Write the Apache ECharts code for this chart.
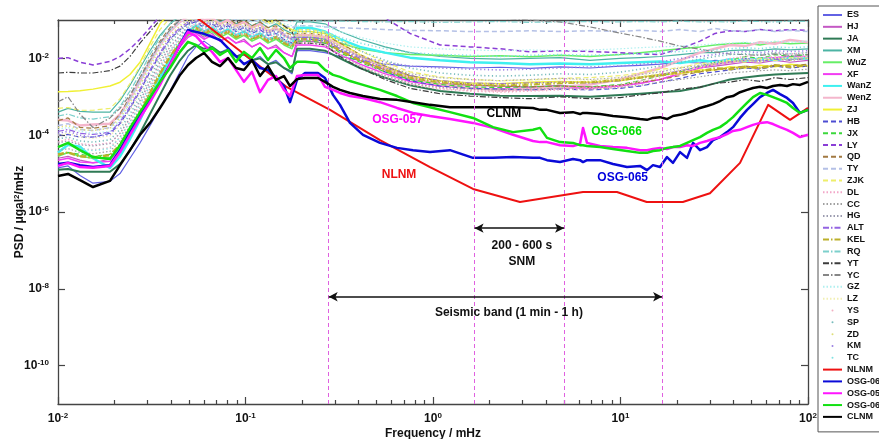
<!DOCTYPE html>
<html>
<head>
<meta charset="utf-8">
<script src="https://cdn.jsdelivr.net/npm/echarts@6/dist/echarts.min.js"></script>
<style>
html,body{margin:0;padding:0;background:#fff;}
#chart{width:879px;height:439px;}
</style>
</head>
<body>
<div id="chart"></div>
<script>
// Frequency grid (mHz) shared by the station spectra
const freqGrid = [0.01,0.01131,0.0131,0.01537,0.01894,0.02142,0.02421,0.02738,0.03096,0.03499,0.03957,0.04474,0.04934,0.05445,0.06008,0.06628,0.07311,0.08066,0.08898,0.09817,0.1083,0.1195,0.1318,0.1454,0.1604,0.177,0.1882,0.2208,0.2655,0.3192,0.408,0.5546,0.7541,1.09,1.575,2.277,3.291,4.756,6.875,9.94,12.71,16.25,20.77,26.55,31.92,38.37,46.13,55.46,66.68,80.17,100];

// Denser frequency grid (mHz) for the superconducting gravimeters and CLNM
const freqFine = [0.01,0.01131,0.0131,0.01537,0.01894,0.02142,0.02421,0.02738,0.03096,0.03499,0.03957,0.04474,0.04934,0.05445,0.06008,0.06628,0.07311,0.08066,0.08898,0.09817,0.1083,0.1195,0.1318,0.1454,0.1604,0.1727,0.1882,0.2077,0.2435,0.2655,0.2929,0.3192,0.3607,0.4233,0.5215,0.6427,0.7822,0.9638,1.232,1.634,2.089,2.672,3.414,3.722,4.055,4.756,5.58,6.081,6.31,6.627,7.777,9.12,10.83,12.71,13.85,14.9,16.25,17.7,19.05,20.77,22.63,24.37,26.55,28.93,31.14,33.95,36.98,39.81,43.39,47.29,50.9,55.46,60.42,65.07,70.91,77.27,83.18,90.64,100];

// Station PSD, log10(µgal²/mHz), on freqGrid
const psdES   = [-4.85,-4.80,-5.05,-5.25,-5.20,-5.00,-4.60,-4.20,-3.75,-3.30,-2.85,-2.35,-1.95,-1.70,-1.55,-1.70,-1.85,-1.75,-1.95,-1.85,-2.05,-1.95,-2.15,-2.05,-2.25,-2.40,-1.80,-1.80,-1.85,-1.95,-2.05,-2.15,-2.20,-2.22,-2.25,-2.23,-2.26,-2.22,-2.25,-2.20,-2.18,-2.15,-2.10,-2.12,-2.05,-2.08,-2.00,-2.05,-1.98,-2.02,-2.00];
const psdHJ   = [-4.60,-4.55,-4.65,-4.72,-4.62,-4.40,-4.05,-3.60,-3.10,-2.60,-2.10,-1.70,-1.40,-1.30,-1.45,-1.35,-1.55,-1.45,-1.60,-1.50,-1.70,-1.60,-1.75,-1.65,-1.85,-1.95,-1.55,-1.55,-1.60,-1.80,-2.05,-2.30,-2.55,-2.65,-2.70,-2.72,-2.75,-2.70,-2.75,-2.70,-2.65,-2.55,-2.40,-2.25,-2.20,-2.15,-2.10,-2.12,-2.05,-2.10,-2.05];
const psdJA   = [-4.90,-4.88,-4.95,-4.95,-4.95,-4.75,-4.40,-3.95,-3.45,-2.95,-2.45,-2.05,-1.80,-1.65,-1.75,-1.70,-1.85,-1.80,-1.95,-1.90,-2.05,-2.00,-2.15,-2.10,-2.25,-2.35,-1.75,-1.75,-1.80,-2.00,-2.25,-2.50,-2.70,-2.85,-2.92,-2.97,-2.98,-2.97,-3.00,-2.95,-2.92,-2.88,-2.85,-2.75,-2.65,-2.55,-2.50,-2.45,-2.42,-2.40,-2.38];
const psdXM   = [-3.40,-3.30,-3.38,-3.40,-3.40,-3.10,-2.70,-2.25,-1.80,-1.40,-1.10,-0.90,-0.80,-0.85,-0.95,-0.90,-1.05,-0.95,-1.10,-1.00,-1.15,-1.05,-1.20,-1.10,-1.25,-1.35,-1.05,-1.05,-1.10,-1.30,-1.50,-1.70,-1.85,-1.95,-2.00,-2.02,-2.00,-1.98,-2.05,-2.00,-1.98,-1.95,-1.90,-1.85,-1.85,-1.80,-1.78,-1.80,-1.75,-1.78,-1.75];
const psdWuZ  = [-4.55,-4.45,-4.55,-4.60,-4.58,-4.35,-3.95,-3.50,-3.00,-2.50,-2.05,-1.65,-1.40,-1.25,-1.40,-1.30,-1.45,-1.35,-1.50,-1.40,-1.55,-1.45,-1.60,-1.50,-1.65,-1.75,-1.45,-1.45,-1.50,-1.60,-1.75,-1.85,-1.90,-1.92,-1.95,-1.93,-1.96,-1.92,-1.95,-1.90,-1.85,-1.80,-1.75,-1.70,-1.65,-1.62,-1.60,-1.65,-1.58,-1.62,-1.60];
const psdXF   = [-4.65,-4.60,-4.70,-4.72,-4.68,-4.45,-4.05,-3.60,-3.10,-2.60,-2.10,-1.70,-1.45,-1.35,-1.50,-1.40,-1.55,-1.45,-1.60,-1.55,-1.70,-1.60,-1.75,-1.70,-1.85,-1.95,-1.65,-1.65,-1.70,-1.90,-2.15,-2.40,-2.60,-2.72,-2.78,-2.80,-2.78,-2.76,-2.78,-2.72,-2.65,-2.55,-2.40,-2.25,-2.15,-2.10,-2.05,-2.00,-1.98,-1.95,-1.95];
const psdWanZ = [-4.45,-4.25,-4.30,-4.60,-4.85,-4.55,-4.10,-3.60,-3.05,-2.50,-2.00,-1.60,-1.30,-1.15,-1.30,-1.20,-1.35,-1.25,-1.40,-1.30,-1.45,-1.35,-1.50,-1.45,-1.55,-1.65,-1.20,-1.20,-1.30,-1.50,-1.70,-1.85,-1.98,-2.05,-2.10,-2.12,-2.15,-2.13,-2.15,-2.12,-2.10,-2.08,-2.12,-2.05,-2.10,-2.02,-2.06,-2.00,-2.04,-1.98,-2.00];
const psdWenZ = [-3.60,-3.62,-3.75,-3.72,-3.70,-3.45,-3.05,-2.60,-2.10,-1.65,-1.30,-1.05,-0.90,-0.85,-1.00,-0.95,-1.10,-1.00,-1.15,-1.05,-1.20,-1.10,-1.30,-1.20,-1.40,-1.50,-1.40,-1.40,-1.45,-1.65,-1.95,-2.25,-2.50,-2.68,-2.78,-2.82,-2.80,-2.75,-2.68,-2.55,-2.40,-2.25,-2.05,-1.85,-1.75,-1.65,-1.68,-1.58,-1.62,-1.52,-1.58];
const psdZJ   = [-2.87,-2.86,-2.84,-2.80,-2.72,-2.62,-2.42,-2.10,-1.60,-1.10,-0.80,-0.60,-0.50,-0.55,-0.65,-0.60,-0.75,-0.70,-0.85,-0.80,-0.95,-0.90,-1.05,-1.00,-1.15,-1.25,-1.30,-1.30,-1.35,-1.60,-1.90,-2.20,-2.45,-2.58,-2.64,-2.66,-2.62,-2.60,-2.62,-2.58,-2.50,-2.42,-2.40,-2.30,-2.30,-2.22,-2.25,-2.18,-2.22,-2.15,-2.20];
const psdHB   = [-4.00,-3.98,-4.05,-4.05,-3.95,-3.70,-3.30,-2.85,-2.35,-1.90,-1.50,-1.25,-1.10,-1.05,-1.20,-1.10,-1.25,-1.15,-1.30,-1.20,-1.35,-1.25,-1.40,-1.35,-1.50,-1.60,-1.50,-1.50,-1.55,-1.80,-2.05,-2.35,-2.58,-2.72,-2.78,-2.80,-2.82,-2.80,-2.82,-2.78,-2.72,-2.62,-2.52,-2.40,-2.35,-2.30,-2.25,-2.28,-2.20,-2.25,-2.20];
const psdJX   = [-4.50,-4.45,-4.50,-4.55,-4.50,-4.25,-3.85,-3.40,-2.90,-2.40,-1.95,-1.60,-1.35,-1.20,-1.35,-1.25,-1.40,-1.30,-1.45,-1.35,-1.50,-1.40,-1.55,-1.45,-1.60,-1.70,-1.55,-1.55,-1.60,-1.85,-2.10,-2.35,-2.55,-2.68,-2.74,-2.76,-2.74,-2.72,-2.74,-2.68,-2.58,-2.45,-2.35,-2.20,-2.10,-2.05,-1.95,-2.00,-1.90,-1.95,-1.90];
const psdLY   = [-2.00,-1.98,-2.10,-2.17,-2.08,-1.95,-1.75,-1.50,-1.20,-0.90,-0.70,-0.60,-0.50,-0.50,-0.55,-0.60,-0.50,-0.60,-0.55,-0.60,-0.65,-0.60,-0.70,-0.65,-0.70,-0.80,-0.50,-0.50,-0.55,-0.65,-0.75,-0.95,-1.35,-1.65,-1.70,-1.75,-1.83,-1.80,-1.82,-1.85,-1.88,-1.90,-1.75,-1.55,-1.35,-1.28,-1.30,-1.25,-1.28,-1.25,-1.27];
const psdQD   = [-3.62,-3.55,-3.80,-3.82,-3.75,-3.45,-3.00,-2.50,-2.00,-1.55,-1.20,-1.00,-0.85,-0.85,-0.95,-0.90,-1.00,-0.95,-1.10,-1.00,-1.15,-1.05,-1.20,-1.15,-1.30,-1.40,-1.35,-1.35,-1.40,-1.60,-1.90,-2.20,-2.45,-2.60,-2.68,-2.72,-2.74,-2.72,-2.75,-2.70,-2.62,-2.55,-2.45,-2.35,-2.30,-2.25,-2.20,-2.25,-2.18,-2.20,-2.15];
const psdTY   = [-3.75,-3.70,-3.85,-3.88,-3.80,-3.50,-3.05,-2.55,-2.05,-1.60,-1.25,-1.00,-0.85,-0.80,-0.90,-0.85,-0.95,-0.90,-1.00,-0.95,-1.05,-1.00,-1.10,-1.05,-1.15,-1.20,-1.15,-1.15,-1.18,-1.20,-1.22,-1.25,-1.27,-1.28,-1.30,-1.30,-1.28,-1.30,-1.28,-1.30,-1.27,-1.30,-1.25,-1.30,-1.22,-1.28,-1.30,-1.25,-1.30,-1.27,-1.30];
const psdZJK  = [-3.30,-3.28,-3.35,-3.35,-3.30,-3.05,-2.65,-2.20,-1.70,-1.25,-0.95,-0.75,-0.65,-0.65,-0.75,-0.70,-0.80,-0.75,-0.90,-0.85,-1.00,-0.95,-1.10,-1.05,-1.20,-1.30,-1.25,-1.25,-1.30,-1.50,-1.80,-2.10,-2.35,-2.48,-2.55,-2.58,-2.56,-2.52,-2.50,-2.45,-2.38,-2.28,-2.25,-2.12,-2.15,-2.05,-2.10,-2.00,-2.05,-1.98,-2.00];
const psdDL   = [-4.18,-4.10,-4.22,-4.25,-4.20,-3.95,-3.55,-3.10,-2.60,-2.10,-1.70,-1.40,-1.20,-1.10,-1.25,-1.15,-1.30,-1.20,-1.35,-1.25,-1.40,-1.30,-1.45,-1.35,-1.50,-1.60,-1.45,-1.45,-1.50,-1.75,-2.05,-2.40,-2.65,-2.78,-2.84,-2.86,-2.84,-2.80,-2.76,-2.70,-2.58,-2.45,-2.32,-2.20,-2.10,-2.00,-1.95,-1.90,-1.85,-1.88,-1.85];
const psdCC   = [-4.40,-4.35,-4.45,-4.48,-4.42,-4.15,-3.75,-3.30,-2.80,-2.30,-1.85,-1.50,-1.25,-1.15,-1.30,-1.20,-1.35,-1.25,-1.40,-1.30,-1.45,-1.35,-1.50,-1.40,-1.55,-1.65,-1.60,-1.60,-1.65,-1.90,-2.20,-2.45,-2.65,-2.75,-2.80,-2.82,-2.80,-2.78,-2.80,-2.76,-2.70,-2.62,-2.55,-2.48,-2.42,-2.38,-2.35,-2.32,-2.30,-2.32,-2.28];
const psdHG   = [-4.20,-4.15,-4.25,-4.28,-4.22,-3.95,-3.55,-3.10,-2.60,-2.10,-1.70,-1.40,-1.15,-1.00,-1.15,-1.05,-1.20,-1.10,-1.25,-1.15,-1.30,-1.20,-1.35,-1.25,-1.40,-1.50,-1.45,-1.45,-1.50,-1.70,-1.95,-2.20,-2.40,-2.50,-2.55,-2.58,-2.55,-2.52,-2.55,-2.50,-2.42,-2.35,-2.25,-2.18,-2.12,-2.08,-2.04,-2.06,-2.00,-2.02,-2.00];
const psdALT  = [-3.90,-3.85,-3.95,-3.98,-3.92,-3.65,-3.25,-2.80,-2.30,-1.85,-1.45,-1.20,-1.05,-1.00,-1.10,-1.05,-1.15,-1.10,-1.20,-1.15,-1.25,-1.20,-1.30,-1.25,-1.35,-1.45,-1.45,-1.45,-1.50,-1.75,-2.00,-2.25,-2.45,-2.58,-2.64,-2.66,-2.64,-2.62,-2.64,-2.58,-2.50,-2.42,-2.32,-2.22,-2.15,-2.10,-2.05,-2.08,-2.02,-2.05,-2.00];
const psdKEL  = [-4.50,-4.45,-4.55,-4.58,-4.52,-4.25,-3.85,-3.40,-2.90,-2.40,-1.95,-1.60,-1.35,-1.20,-1.35,-1.25,-1.40,-1.30,-1.45,-1.35,-1.50,-1.40,-1.55,-1.45,-1.60,-1.70,-1.50,-1.50,-1.55,-1.80,-2.05,-2.30,-2.50,-2.62,-2.68,-2.70,-2.68,-2.64,-2.62,-2.56,-2.50,-2.44,-2.36,-2.34,-2.26,-2.28,-2.22,-2.25,-2.18,-2.22,-2.18];
const psdRQ   = [-3.50,-3.45,-3.55,-3.58,-3.52,-3.25,-2.85,-2.40,-1.90,-1.45,-1.10,-0.85,-0.70,-0.70,-0.80,-0.75,-0.85,-0.80,-0.90,-0.85,-0.95,-0.90,-1.00,-0.95,-1.00,-1.05,-1.02,-1.02,-1.03,-1.03,-1.04,-1.05,-1.04,-1.06,-1.05,-1.04,-1.06,-1.05,-1.04,-1.05,-1.04,-1.05,-1.03,-1.05,-1.04,-1.05,-1.03,-1.04,-1.05,-1.03,-1.04];
const psdYT   = [-2.38,-2.36,-2.38,-2.38,-2.32,-2.20,-1.95,-1.60,-1.30,-1.00,-0.80,-0.60,-0.50,-0.55,-0.65,-0.60,-0.75,-0.70,-0.85,-0.80,-0.95,-0.90,-1.05,-1.00,-1.15,-1.30,-1.60,-1.60,-1.65,-1.95,-2.25,-2.55,-2.78,-2.92,-2.98,-3.02,-3.05,-3.00,-3.05,-3.02,-2.95,-2.90,-2.80,-2.75,-2.65,-2.62,-2.55,-2.60,-2.50,-2.55,-2.50];
const psdYC   = [-3.13,-3.00,-3.45,-3.80,-3.55,-3.30,-2.95,-2.50,-2.05,-1.60,-1.25,-1.00,-0.85,-0.60,-0.70,-0.65,-0.75,-0.70,-0.80,-0.75,-0.85,-0.80,-0.90,-0.85,-0.90,-0.95,-0.70,-0.70,-0.72,-0.70,-0.72,-0.75,-0.80,-0.85,-0.90,-0.95,-1.00,-1.05,-1.18,-1.34,-1.44,-1.55,-1.68,-1.76,-1.83,-1.89,-1.90,-1.92,-1.88,-1.92,-1.90];
const psdGZ   = [-3.85,-3.80,-3.90,-3.95,-3.90,-3.60,-3.15,-2.65,-2.15,-1.70,-1.30,-1.05,-0.90,-0.85,-0.90,-0.88,-0.95,-0.90,-1.00,-0.95,-1.05,-1.00,-1.10,-1.05,-1.10,-1.15,-1.15,-1.15,-1.17,-1.30,-1.45,-1.60,-1.70,-1.75,-1.78,-1.80,-1.78,-1.80,-1.78,-1.75,-1.72,-1.70,-1.68,-1.65,-1.62,-1.60,-1.58,-1.60,-1.55,-1.58,-1.55];
const psdLZ   = [-4.00,-3.95,-4.05,-4.08,-4.02,-3.75,-3.35,-2.90,-2.40,-1.95,-1.55,-1.25,-1.05,-1.00,-1.10,-1.05,-1.15,-1.10,-1.20,-1.15,-1.25,-1.20,-1.30,-1.25,-1.35,-1.45,-1.35,-1.35,-1.40,-1.65,-1.90,-2.15,-2.38,-2.50,-2.56,-2.58,-2.56,-2.54,-2.56,-2.50,-2.42,-2.32,-2.22,-2.15,-2.10,-2.05,-2.00,-2.05,-1.98,-2.00,-1.95];
const psdYS   = [-4.30,-4.25,-4.35,-4.38,-4.32,-4.05,-3.65,-3.20,-2.70,-2.20,-1.80,-1.50,-1.30,-1.20,-1.30,-1.25,-1.35,-1.30,-1.40,-1.35,-1.45,-1.40,-1.50,-1.45,-1.55,-1.65,-1.60,-1.60,-1.65,-1.90,-2.20,-2.48,-2.68,-2.80,-2.85,-2.88,-2.85,-2.82,-2.80,-2.74,-2.62,-2.50,-2.38,-2.25,-2.15,-2.10,-2.05,-2.00,-1.95,-1.98,-1.95];
const psdSP   = [-4.10,-4.05,-4.15,-4.18,-4.12,-3.85,-3.45,-3.00,-2.50,-2.00,-1.60,-1.30,-1.10,-1.05,-1.15,-1.10,-1.20,-1.15,-1.25,-1.20,-1.30,-1.25,-1.35,-1.30,-1.40,-1.50,-1.30,-1.30,-1.35,-1.55,-1.80,-2.05,-2.25,-2.38,-2.44,-2.46,-2.44,-2.40,-2.42,-2.36,-2.28,-2.20,-2.10,-2.02,-1.95,-1.90,-1.88,-1.90,-1.85,-1.88,-1.85];
const psdZD   = [-3.80,-3.75,-3.85,-3.88,-3.82,-3.55,-3.15,-2.70,-2.20,-1.75,-1.40,-1.15,-1.00,-0.95,-1.05,-1.00,-1.10,-1.05,-1.15,-1.10,-1.20,-1.15,-1.25,-1.20,-1.30,-1.40,-1.40,-1.40,-1.45,-1.70,-1.95,-2.25,-2.48,-2.60,-2.66,-2.68,-2.66,-2.62,-2.60,-2.55,-2.48,-2.40,-2.30,-2.22,-2.15,-2.10,-2.05,-2.10,-2.00,-2.05,-2.00];
const psdKM   = [-3.95,-3.90,-4.00,-4.05,-3.98,-3.70,-3.30,-2.85,-2.35,-1.90,-1.50,-1.25,-1.10,-1.05,-1.15,-1.10,-1.20,-1.15,-1.25,-1.20,-1.30,-1.25,-1.35,-1.30,-1.40,-1.50,-1.50,-1.50,-1.55,-1.75,-1.95,-2.10,-2.20,-2.25,-2.28,-2.30,-2.28,-2.25,-2.22,-2.20,-2.15,-2.10,-2.00,-1.95,-1.90,-1.85,-1.82,-1.85,-1.80,-1.82,-1.80];
const psdTC   = [-4.30,-4.25,-4.35,-4.40,-4.35,-4.05,-3.65,-3.20,-2.70,-2.20,-1.80,-1.45,-1.20,-1.10,-1.20,-1.15,-1.25,-1.20,-1.30,-1.25,-1.35,-1.30,-1.40,-1.35,-1.45,-1.55,-1.25,-1.25,-1.30,-1.45,-1.60,-1.75,-1.85,-1.90,-1.92,-1.95,-1.92,-1.90,-1.92,-1.90,-1.88,-1.85,-1.82,-1.80,-1.78,-1.75,-1.72,-1.75,-1.70,-1.72,-1.70];

// New Low Noise Model, log10(µgal²/mHz)
const nlnmFreq = [0.0506,0.0572,0.1665,0.2825,0.5216,0.964,1.635,2.91,6.31,9.57,13.8,21.5,30.0,43.4,61.3,80.2,100];
const nlnmExp  = [-0.82,-1.00,-2.75,-3.34,-4.13,-4.83,-5.40,-5.74,-5.48,-5.48,-5.74,-5.74,-5.51,-4.72,-3.21,-3.60,-3.29];

// Superconducting gravimeters and CLNM, log10(µgal²/mHz), on freqFine
const osg065Exp = [-4.75,-4.72,-4.78,-4.83,-4.78,-4.39,-3.92,-3.47,-3.08,-2.64,-2.17,-1.65,-1.26,-1.31,-1.36,-1.44,-1.52,-1.73,-1.94,-2.15,-2.04,-2.25,-2.30,-2.51,-2.72,-3.14,-2.56,-2.38,-2.38,-2.51,-2.95,-3.21,-3.68,-3.99,-4.20,-4.33,-4.39,-4.44,-4.39,-4.59,-4.59,-4.57,-4.59,-4.59,-4.65,-4.70,-4.62,-4.65,-4.70,-4.65,-4.65,-4.75,-4.83,-4.80,-4.91,-4.78,-4.83,-4.57,-4.72,-4.44,-4.59,-4.20,-4.39,-4.31,-4.13,-4.05,-3.92,-3.79,-3.55,-3.34,-3.19,-3.01,-2.90,-2.82,-2.93,-3.03,-3.16,-3.42,-3.34];
const osg057Exp = [-4.80,-4.72,-4.83,-4.85,-4.80,-4.44,-3.99,-3.55,-3.14,-2.69,-2.17,-1.65,-1.31,-1.42,-1.65,-1.83,-2.09,-1.99,-2.30,-2.61,-2.35,-2.88,-2.56,-2.46,-2.82,-2.98,-2.46,-2.43,-2.43,-2.74,-2.82,-2.90,-2.98,-3.03,-3.14,-3.29,-3.42,-3.50,-3.58,-3.68,-3.81,-3.99,-4.15,-4.18,-4.18,-4.26,-4.28,-4.23,-3.81,-4.20,-4.28,-4.31,-4.33,-4.39,-4.39,-4.36,-4.33,-4.36,-4.31,-4.31,-4.26,-4.28,-4.20,-4.15,-4.10,-4.05,-3.97,-3.89,-3.86,-3.79,-3.73,-3.68,-3.66,-3.71,-3.79,-3.86,-3.94,-4.05,-3.99];
const osg066Exp = [-4.31,-4.20,-4.39,-4.57,-4.62,-4.26,-3.81,-3.40,-3.01,-2.61,-2.25,-1.83,-1.57,-1.65,-1.83,-1.73,-1.91,-1.78,-2.09,-1.83,-1.99,-1.73,-2.04,-1.78,-1.99,-2.25,-2.09,-2.09,-2.12,-2.30,-2.43,-2.48,-2.59,-2.69,-2.82,-2.98,-3.16,-3.27,-3.40,-3.55,-3.79,-3.92,-3.86,-3.81,-4.07,-4.18,-4.20,-4.26,-4.26,-4.28,-4.31,-4.36,-4.41,-4.46,-4.46,-4.41,-4.39,-4.33,-4.31,-4.28,-4.20,-4.13,-4.05,-3.94,-3.86,-3.79,-3.66,-3.53,-3.34,-3.16,-3.01,-2.90,-2.95,-3.01,-3.08,-3.16,-3.29,-3.42,-3.34];
const clnmExp   = [-5.06,-5.01,-5.17,-5.35,-5.19,-4.78,-4.39,-3.99,-3.68,-3.29,-2.88,-2.43,-2.17,-1.99,-1.86,-2.09,-2.20,-1.99,-2.25,-2.30,-2.04,-2.46,-2.20,-2.56,-2.46,-2.72,-2.54,-2.51,-2.51,-2.61,-2.74,-2.82,-2.90,-2.98,-3.06,-3.08,-3.14,-3.21,-3.27,-3.27,-3.27,-3.27,-3.29,-3.34,-3.34,-3.42,-3.40,-3.45,-3.42,-3.42,-3.45,-3.50,-3.53,-3.58,-3.60,-3.55,-3.53,-3.58,-3.50,-3.47,-3.42,-3.37,-3.29,-3.24,-3.19,-3.11,-3.01,-2.98,-2.88,-2.82,-2.77,-2.74,-2.77,-2.72,-2.69,-2.72,-2.67,-2.69,-2.61];

// Axis ticks
const xDecades = [0.01, 0.1, 1, 10, 100];
const xMinorTicks = [0.02,0.03,0.04,0.05,0.06,0.07,0.08,0.09,0.2,0.3,0.4,0.5,0.6,0.7,0.8,0.9,2,3,4,5,6,7,8,9,20,30,40,50,60,70,80,90];
const yDecades = [1e-10, 1e-8, 1e-6, 1e-4, 1e-2];
const yRange = [1e-11, 1e-1];

// Period bounds (s) of the seismic band and of the SNM band
const seismicPeriods = [3600, 60];
const snmPeriods = [600, 200];
const seismicArrowPsd = 6.2e-9;
const snmArrowPsd = 3.8e-7;

// Text annotations: [frequency mHz, PSD, text, colour]
const curveNotes = [
  [0.647, 2.5e-4, 'OSG-057', '#ff00ff'],
  [2.39, 3.7e-4, 'CLNM', '#000000'],
  [0.659, 9.1e-6, 'NLNM', '#ee1111'],
  [9.53, 1.23e-4, 'OSG-066', '#00dd00'],
  [10.27, 7.6e-6, 'OSG-065', '#0000dd'],
  [2.98, 1.35e-7, '200 - 600 s', '#111111'],
  [2.98, 5.2e-8, 'SNM', '#111111'],
  [2.54, 2.4e-9, 'Seismic band (1 min - 1 h)', '#111111']
];

const stationNames = ['ES','HJ','JA','XM','WuZ','XF','WanZ','WenZ','ZJ','HB','JX','LY','QD','TY','ZJK','DL','CC','HG','ALT','KEL','RQ','YT','YC','GZ','LZ','YS','SP','ZD','KM','TC'];
const stationPsd = {ES:psdES,HJ:psdHJ,JA:psdJA,XM:psdXM,WuZ:psdWuZ,XF:psdXF,WanZ:psdWanZ,WenZ:psdWenZ,ZJ:psdZJ,HB:psdHB,JX:psdJX,LY:psdLY,QD:psdQD,TY:psdTY,ZJK:psdZJK,DL:psdDL,CC:psdCC,HG:psdHG,ALT:psdALT,KEL:psdKEL,RQ:psdRQ,YT:psdYT,YC:psdYC,GZ:psdGZ,LZ:psdLZ,YS:psdYS,SP:psdSP,ZD:psdZD,KM:psdKM,TC:psdTC};

// Line styles
const DASH = [5, 3], DOT = [1.5, 2], DASHDOT = [6, 2, 1.5, 2], DOTS = [1.2, 2.6];
const stationStyle = {
  ES:{c:'#6262e4',t:'solid',w:1.2}, HJ:{c:'#c458c4',t:'solid',w:1.2}, JA:{c:'#2f7a55',t:'solid',w:2},
  XM:{c:'#4cb4a4',t:'solid',w:1.2}, WuZ:{c:'#66ee66',t:'solid',w:1.5}, XF:{c:'#f23cf2',t:'solid',w:1.5},
  WanZ:{c:'#3ef0f0',t:'solid',w:2.5}, WenZ:{c:'#f4b6cc',t:'solid',w:2.5}, ZJ:{c:'#f0f034',t:'solid',w:1.5},
  HB:{c:'#4d4dd2',t:DASH,w:1.2}, JX:{c:'#3cd83c',t:DASH,w:1.2}, LY:{c:'#8a3ed6',t:DASH,w:1.5},
  QD:{c:'#a27a42',t:DASH,w:1.2}, TY:{c:'#b4c0e6',t:DASH,w:1.5}, ZJK:{c:'#eeee6a',t:DASH,w:1.2},
  DL:{c:'#f2a6c8',t:DOT,w:1.2}, CC:{c:'#a0a0a0',t:DOT,w:1.2}, HG:{c:'#9c9cb0',t:DOT,w:1.2},
  ALT:{c:'#9464e2',t:DASHDOT,w:1.2}, KEL:{c:'#bcb02a',t:DASHDOT,w:2.5}, RQ:{c:'#7cd0cc',t:DASHDOT,w:1.2},
  YT:{c:'#3c3c3c',t:DASHDOT,w:1.2}, YC:{c:'#868686',t:DASHDOT,w:1.2}, GZ:{c:'#b0f0f0',t:DOT,w:1.2},
  LZ:{c:'#f2f0b4',t:DOT,w:1.2}, YS:{c:'#f2b0c2',t:DOTS,w:1.6}, SP:{c:'#78bcbc',t:DOTS,w:1.6},
  ZD:{c:'#dede78',t:DOTS,w:1.6}, KM:{c:'#9a7ee2',t:DOTS,w:1.6}, TC:{c:'#80e2e2',t:DOTS,w:1.6}
};
const dotLegend = ['YS','SP','ZD','KM','TC'];
const refCurves = [
  {name:'NLNM', f:nlnmFreq, p:nlnmExp, c:'#ee1111', w:2},
  {name:'OSG-065', f:freqFine, p:osg065Exp, c:'#0a0ad8', w:2.5},
  {name:'OSG-057', f:freqFine, p:osg057Exp, c:'#ff14ff', w:2.5},
  {name:'OSG-066', f:freqFine, p:osg066Exp, c:'#12e012', w:2.5},
  {name:'CLNM', f:freqFine, p:clnmExp, c:'#000000', w:2.5}
];

const FONT = '"Liberation Sans", Arial, Helvetica, sans-serif';
const BAND_COLOR = '#e060e0';

function pairs(freqs, exps) {
  return freqs.map((f, i) => [f, Math.pow(10, exps[i])]);
}
function lineSeries(name, data, color, type, width) {
  return {
    name, type: 'line', data, symbol: 'none', showSymbol: false, clip: true, smooth: false,
    xAxisIndex: 0, yAxisIndex: 0,
    lineStyle: {color, type, width, cap: 'butt', join: 'round'},
    itemStyle: {color}, emphasis: {disabled: true}, silent: true
  };
}

const series = [];
stationNames.forEach(n => {
  const s = stationStyle[n];
  series.push(lineSeries(n, pairs(freqGrid, stationPsd[n]), s.c, s.t, s.w));
});
refCurves.forEach(r => series.push(lineSeries(r.name, pairs(r.f, r.p), r.c, 'solid', r.w)));

// Band limits drawn as dashed verticals spanning the full PSD range
const bandFreqs = seismicPeriods.concat(snmPeriods).map(T => 1000 / T);
series.push({
  name: 'bands', type: 'line', data: [], xAxisIndex: 0, yAxisIndex: 0, silent: true, z: 5,
  itemStyle: {color: BAND_COLOR}, lineStyle: {color: BAND_COLOR},
  markLine: {
    silent: true, symbol: ['none', 'none'], animation: false, precision: 6,
    label: {show: false}, emphasis: {disabled: true},
    lineStyle: {color: BAND_COLOR, type: [4, 3], width: 1, opacity: 1},
    data: bandFreqs.map(f => [
      {coord: [f, yRange[0]], lineStyle: {color: BAND_COLOR, type: [4, 3], width: 1}},
      {coord: [f, yRange[1]]}
    ])
  }
});
series.push({
  name: 'arrows', type: 'line', data: [], xAxisIndex: 0, yAxisIndex: 0, silent: true, z: 5,
  itemStyle: {color: '#111'},
  markLine: {
    silent: true, symbol: ['arrow', 'arrow'], symbolSize: [7, 9], animation: false,
    label: {show: false}, emphasis: {disabled: true},
    lineStyle: {color: '#111', type: 'solid', width: 1.5},
    data: [
      [{coord: [1000 / snmPeriods[0], snmArrowPsd]}, {coord: [1000 / snmPeriods[1], snmArrowPsd]}],
      [{coord: [1000 / seismicPeriods[0], seismicArrowPsd]}, {coord: [1000 / seismicPeriods[1], seismicArrowPsd]}]
    ]
  }
});
series.push({
  name: 'notes', type: 'line', data: [], xAxisIndex: 0, yAxisIndex: 0, silent: true, z: 6,
  markPoint: {
    silent: true, symbol: 'circle', symbolSize: 0.01, animation: false,
    itemStyle: {color: 'rgba(0,0,0,0)'},
    data: curveNotes.map(n => ({
      coord: [n[0], n[1]], value: n[2],
      label: {show: true, position: 'inside', formatter: n[2], color: n[3],
              fontFamily: FONT, fontWeight: 'bold', fontSize: 12}
    }))
  }
});

const labelRich = {
  b: {fontSize: 12, fontWeight: 'bold', color: '#111', fontFamily: FONT, lineHeight: 14},
  s: {fontSize: 8, fontWeight: 'bold', color: '#111', fontFamily: FONT, verticalAlign: 'top', lineHeight: 9}
};
function expLabel(v) {
  const e = Math.round(Math.log10(v));
  return '{b|10}{s|' + e + '}';
}
const axisLineStyle = {color: '#444', width: 1.3};
const tickStyle = {color: '#444', width: 1.2};

function xAx(position, ticks, len, withLine, extra) {
  return Object.assign({
    type: 'log', gridIndex: 0, position, min: 0.01, max: 100,
    axisLine: {show: withLine, onZero: false, lineStyle: axisLineStyle},
    axisTick: {show: true, inside: true, length: len, customValues: ticks, lineStyle: tickStyle},
    axisLabel: {show: false}, splitLine: {show: false}, minorTick: {show: false}
  }, extra || {});
}

const option = {
  animation: false,
  backgroundColor: '#ffffff',
  grid: {left: 58, top: 20, width: 750, height: 384, containLabel: false, outerBoundsMode: 'none'},
  legend: {
    orient: 'vertical', left: 818, top: 6,
    padding: [4, 8, 10, 4], itemWidth: 19, itemHeight: 10, itemGap: 1.82,
    borderColor: '#555', borderWidth: 1, backgroundColor: '#fff',
    selectedMode: false,
    itemStyle: {opacity: 0},
    textStyle: {fontSize: 9, fontWeight: 'bold', color: '#111', fontFamily: FONT, lineHeight: 10},
    data: stationNames.concat(refCurves.map(r => r.name)).map(n =>
      dotLegend.indexOf(n) >= 0
        ? {name: n, icon: 'path://M0,0M19,10M8.5,5a1,1 0 1,0 2,0a1,1 0 1,0 -2,0z', itemStyle: {opacity: 1}}
        : {name: n})
  },
  xAxis: [
    xAx('bottom', xDecades, 7, true, {
      axisLabel: {show: true, margin: 8, customValues: xDecades, formatter: expLabel, rich: labelRich},
      name: 'Frequency / mHz', nameLocation: 'middle', nameGap: 24, nameMoveOverlap: false,
      nameTextStyle: {fontSize: 12, fontWeight: 'bold', color: '#111', fontFamily: FONT}
    }),
    xAx('bottom', xMinorTicks, 4, false),
    xAx('top', xDecades, 7, true),
    xAx('top', xMinorTicks, 4, false)
  ],
  yAxis: [
    {
      type: 'log', gridIndex: 0, position: 'left', min: yRange[0], max: yRange[1],
      axisLine: {show: true, onZero: false, lineStyle: axisLineStyle},
      axisTick: {show: true, inside: true, length: 7, customValues: yDecades, lineStyle: tickStyle},
      axisLabel: {show: true, margin: 9, customValues: yDecades, formatter: expLabel, rich: labelRich},
      splitLine: {show: false}, minorTick: {show: false},
      name: '{t|PSD / μgal}{u|2}{t|/mHz}', nameLocation: 'middle', nameGap: 31, nameRotate: 90,
      nameMoveOverlap: false,
      nameTextStyle: {rich: {
        t: {fontSize: 12, fontWeight: 'bold', color: '#111', fontFamily: FONT, lineHeight: 14},
        u: {fontSize: 8, fontWeight: 'bold', color: '#111', fontFamily: FONT, verticalAlign: 'top', lineHeight: 9}
      }}
    },
    {
      type: 'log', gridIndex: 0, position: 'right', min: yRange[0], max: yRange[1],
      axisLine: {show: true, onZero: false, lineStyle: axisLineStyle},
      axisTick: {show: true, inside: true, length: 7, customValues: yDecades, lineStyle: tickStyle},
      axisLabel: {show: false}, splitLine: {show: false}
    }
  ],
  series
};

const chart = echarts.init(document.getElementById('chart'), null, {renderer: 'canvas'});
chart.setOption(option);
</script>
</body>
</html>
